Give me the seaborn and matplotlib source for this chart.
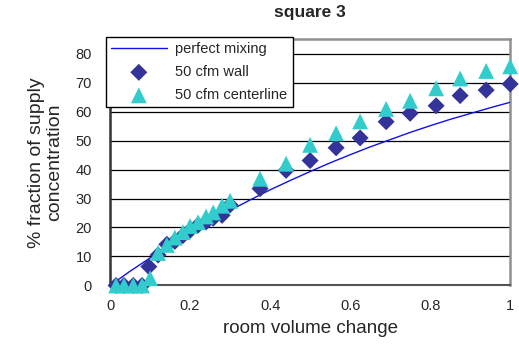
import matplotlib
matplotlib.use("Agg")
import matplotlib.pyplot as plt
import seaborn as sns
import pandas as pd

# room volume change vs. % of supply concentration
mix_x = [0.0, 0.05, 0.1, 0.15, 0.2, 0.25, 0.3, 0.35, 0.4, 0.45, 0.5,
         0.55, 0.6, 0.65, 0.7, 0.75, 0.8, 0.85, 0.9, 0.95, 1.0]
mix_y = [0.0, 4.9, 9.5, 13.9, 18.1, 22.1, 25.9, 29.5, 33.0, 36.2, 39.3,
         42.3, 45.1, 47.8, 50.3, 52.8, 55.1, 57.3, 59.3, 61.3, 63.2]

wall_x = [0.015, 0.035, 0.058, 0.08, 0.097, 0.12, 0.142, 0.162, 0.182, 0.2,
          0.22, 0.24, 0.258, 0.28, 0.3, 0.375, 0.44, 0.5, 0.565, 0.625,
          0.69, 0.75, 0.815, 0.875, 0.94, 1.0]
wall_y = [0.0, 0.0, 0.0, 0.0, 6.5, 10.5, 14.2, 15.2, 17.2, 19.0,
          20.8, 21.9, 23.2, 24.2, 27.8, 33.4, 39.7, 43.1, 47.5, 50.9,
          56.5, 59.4, 62.0, 65.5, 67.4, 69.5]

center_x = [0.015, 0.035, 0.058, 0.08, 0.1, 0.12, 0.142, 0.162, 0.182, 0.2,
            0.22, 0.24, 0.258, 0.28, 0.3, 0.375, 0.44, 0.5, 0.565, 0.625,
            0.69, 0.75, 0.815, 0.875, 0.94, 1.0]
center_y = [0.0, 0.0, 0.0, 0.0, 2.5, 11.2, 14.0, 16.5, 18.4, 20.5,
            21.8, 23.8, 25.2, 27.5, 29.2, 36.8, 42.0, 48.5, 52.5, 56.6,
            60.9, 63.7, 68.0, 71.4, 74.0, 75.6]

x_ticks = [0, 0.2, 0.4, 0.6, 0.8, 1]
x_tick_labels = ["0", "0.2", "0.4", "0.6", "0.8", "1"]
y_ticks = [0, 10, 20, 30, 40, 50, 60, 70, 80]

sns.set_style("white")
plt.rcParams["font.family"] = ["Liberation Sans", "DejaVu Sans"]

fig = plt.figure(figsize=(5.19, 3.52), dpi=100)
ax = fig.add_axes([0.212, 0.189, 0.771, 0.700])

for yv in y_ticks[1:]:
    ax.axhline(yv, color="black", lw=0.9, zorder=1)

mix = pd.DataFrame({"x": mix_x, "y": mix_y})
wall = pd.DataFrame({"x": wall_x, "y": wall_y})
center = pd.DataFrame({"x": center_x, "y": center_y})

sns.lineplot(data=mix, x="x", y="y", ax=ax, color="#1010ee", lw=1.0,
             label="perfect mixing", zorder=3)
sns.scatterplot(data=wall, x="x", y="y", ax=ax, marker="D", s=75,
                color="#333399", edgecolor="none", label="50 cfm wall",
                zorder=4, clip_on=False)
sns.scatterplot(data=center, x="x", y="y", ax=ax, marker="^", s=130,
                color="#33CCCC", edgecolor="none", label="50 cfm centerline",
                zorder=5, clip_on=False)

ax.set_xlim(0, 1)
ax.set_ylim(0, 85)
ax.set_xticks(x_ticks)
ax.set_xticklabels(x_tick_labels)
ax.set_yticks(y_ticks)
ax.tick_params(axis="both", direction="out", length=4, width=1,
               color="#333333", labelsize=10.5)
ax.tick_params(axis="x", pad=6)
ax.tick_params(axis="y", pad=9)

for side in ("top", "right"):
    ax.spines[side].set_color("#909090")
    ax.spines[side].set_linewidth(1.8)
ax.spines["left"].set_color("#333333")
ax.spines["left"].set_linewidth(1.8)
ax.spines["bottom"].set_color("#555555")
ax.spines["bottom"].set_linewidth(1.5)

ax.set_xlabel("room volume change", fontsize=13.5, labelpad=5)
ax.set_ylabel("% fraction of supply\nconcentration", fontsize=14,
              labelpad=9, linespacing=1.05)
ax.set_title("square 3", fontsize=12.5, fontweight="bold", pad=16)

leg = ax.legend(loc="upper left", bbox_to_anchor=(106 / 519, 1 - 37 / 352),
                bbox_transform=fig.transFigure, fontsize=10.5, frameon=True,
                fancybox=False, edgecolor="black", framealpha=1,
                handlelength=3.8, handletextpad=0.6, borderpad=0.35,
                labelspacing=0.62, borderaxespad=0)
leg.get_frame().set_linewidth(1.0)
leg.set_zorder(10)

fig.savefig("out.png", dpi=100)
